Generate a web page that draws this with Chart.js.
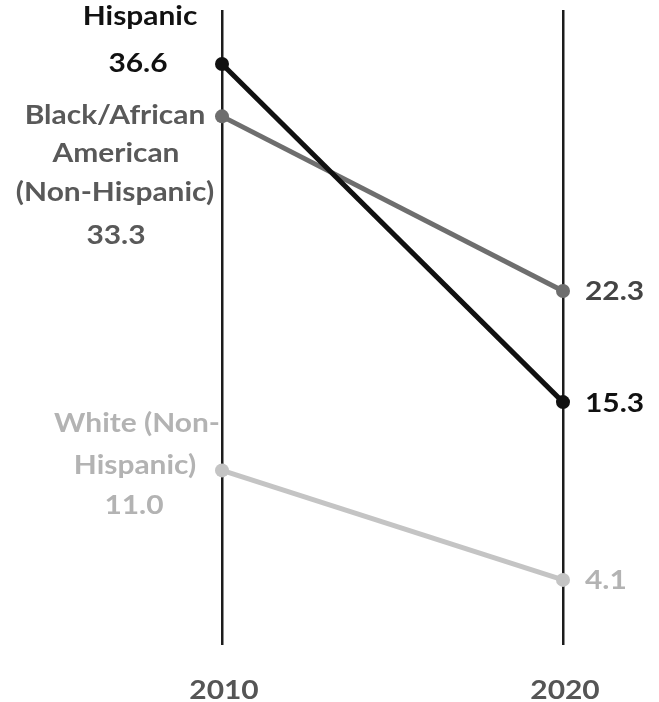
<!DOCTYPE html>
<html>
<head>
<meta charset="utf-8">
<script src="https://cdn.jsdelivr.net/npm/chart.js@4/dist/chart.umd.min.js"></script>
<style>
  html, body { margin: 0; padding: 0; background: #fff; }
  canvas { display: block; }
</style>
</head>
<body>
<canvas id="slope" width="659" height="702"></canvas>
<script>
// Slope chart: rate by group, 2010 vs 2020

const years = ["2010", "2020"];
const hispanic = [36.6, 15.3];
const blackAfrican = [33.3, 22.3];
const white = [11.0, 4.1];

const groupNames = [
  ["Hispanic"],
  ["Black/African", "American", "(Non-Hispanic)"],
  ["White (Non-", "Hispanic)"]
];
const lineColors = ["#111111", "#6e6e6e", "#c4c4c4"];
const labelColors = ["#111111", "#595959", "#b3b3b3"];
const rightColors = ["#111111", "#444444", "#b3b3b3"];

const FONT = "Lato, 'Open Sans', sans-serif";
const SX = 1.15; // labels in the source look horizontally stretched

// per-line offsets [dx, dy] from the 2010 point (centre aligned)
const leftLayout = [
  [[-82, -47], [-84, 0]],
  [[-107, -1], [-106, 37], [-107, 76], [-106, 119]],
  [[-85, -47], [-87, -5], [-88, 35]]
];

function stretchedText(ctx, txt, x, y, align) {
  ctx.save();
  ctx.translate(x, y);
  ctx.scale(SX, 1);
  ctx.textAlign = align;
  ctx.fillText(txt, 0, 0);
  ctx.restore();
}

const labelPlugin = {
  id: "slopeLabels",
  afterDatasetsDraw(chart) {
    const ctx = chart.ctx;
    ctx.save();
    ctx.font = "bold 26px " + FONT;
    ctx.textBaseline = "middle";
    chart.data.datasets.forEach((ds, i) => {
      const meta = chart.getDatasetMeta(i);
      const p0 = meta.data[0], p1 = meta.data[1];
      const lines = groupNames[i].concat([ds.data[0].toFixed(1)]);
      ctx.fillStyle = labelColors[i];
      lines.forEach((txt, k) => {
        const [dx, dy] = leftLayout[i][k];
        stretchedText(ctx, txt, p0.x + dx, p0.y + dy, "center");
      });
      ctx.fillStyle = rightColors[i];
      stretchedText(ctx, ds.data[1].toFixed(1), p1.x + 22, p1.y + 1, "left");
    });
    // year labels under the two vertical lines
    const xs = chart.scales.x;
    ctx.fillStyle = "#555555";
    years.forEach((y, i) => {
      stretchedText(ctx, y, xs.getPixelForValue(i) + 2, 691, "center");
    });
    ctx.restore();
  }
};

function mkSet(data, i) {
  return {
    data,
    borderColor: lineColors[i],
    backgroundColor: lineColors[i],
    borderWidth: 5,
    pointRadius: 7,
    pointHoverRadius: 7,
    pointBorderWidth: 0,
    clip: false,
    tension: 0
  };
}

new Chart(document.getElementById("slope"), {
  type: "line",
  data: {
    labels: years,
    datasets: [mkSet(hispanic, 0), mkSet(blackAfrican, 1), mkSet(white, 2)]
  },
  options: {
    responsive: false,
    animation: false,
    events: [],
    layout: { padding: { left: 222, right: 96, top: 10, bottom: 57 } },
    plugins: { legend: { display: false }, tooltip: { enabled: false } },
    scales: {
      x: {
        offset: false,
        grid: { offset: false, color: "#1c1c1c", lineWidth: 2.5, drawTicks: false },
        border: { display: false },
        ticks: { display: false }
      },
      y: { display: false, min: 0, max: 40 }
    }
  },
  plugins: [labelPlugin]
});
</script>
</body>
</html>
